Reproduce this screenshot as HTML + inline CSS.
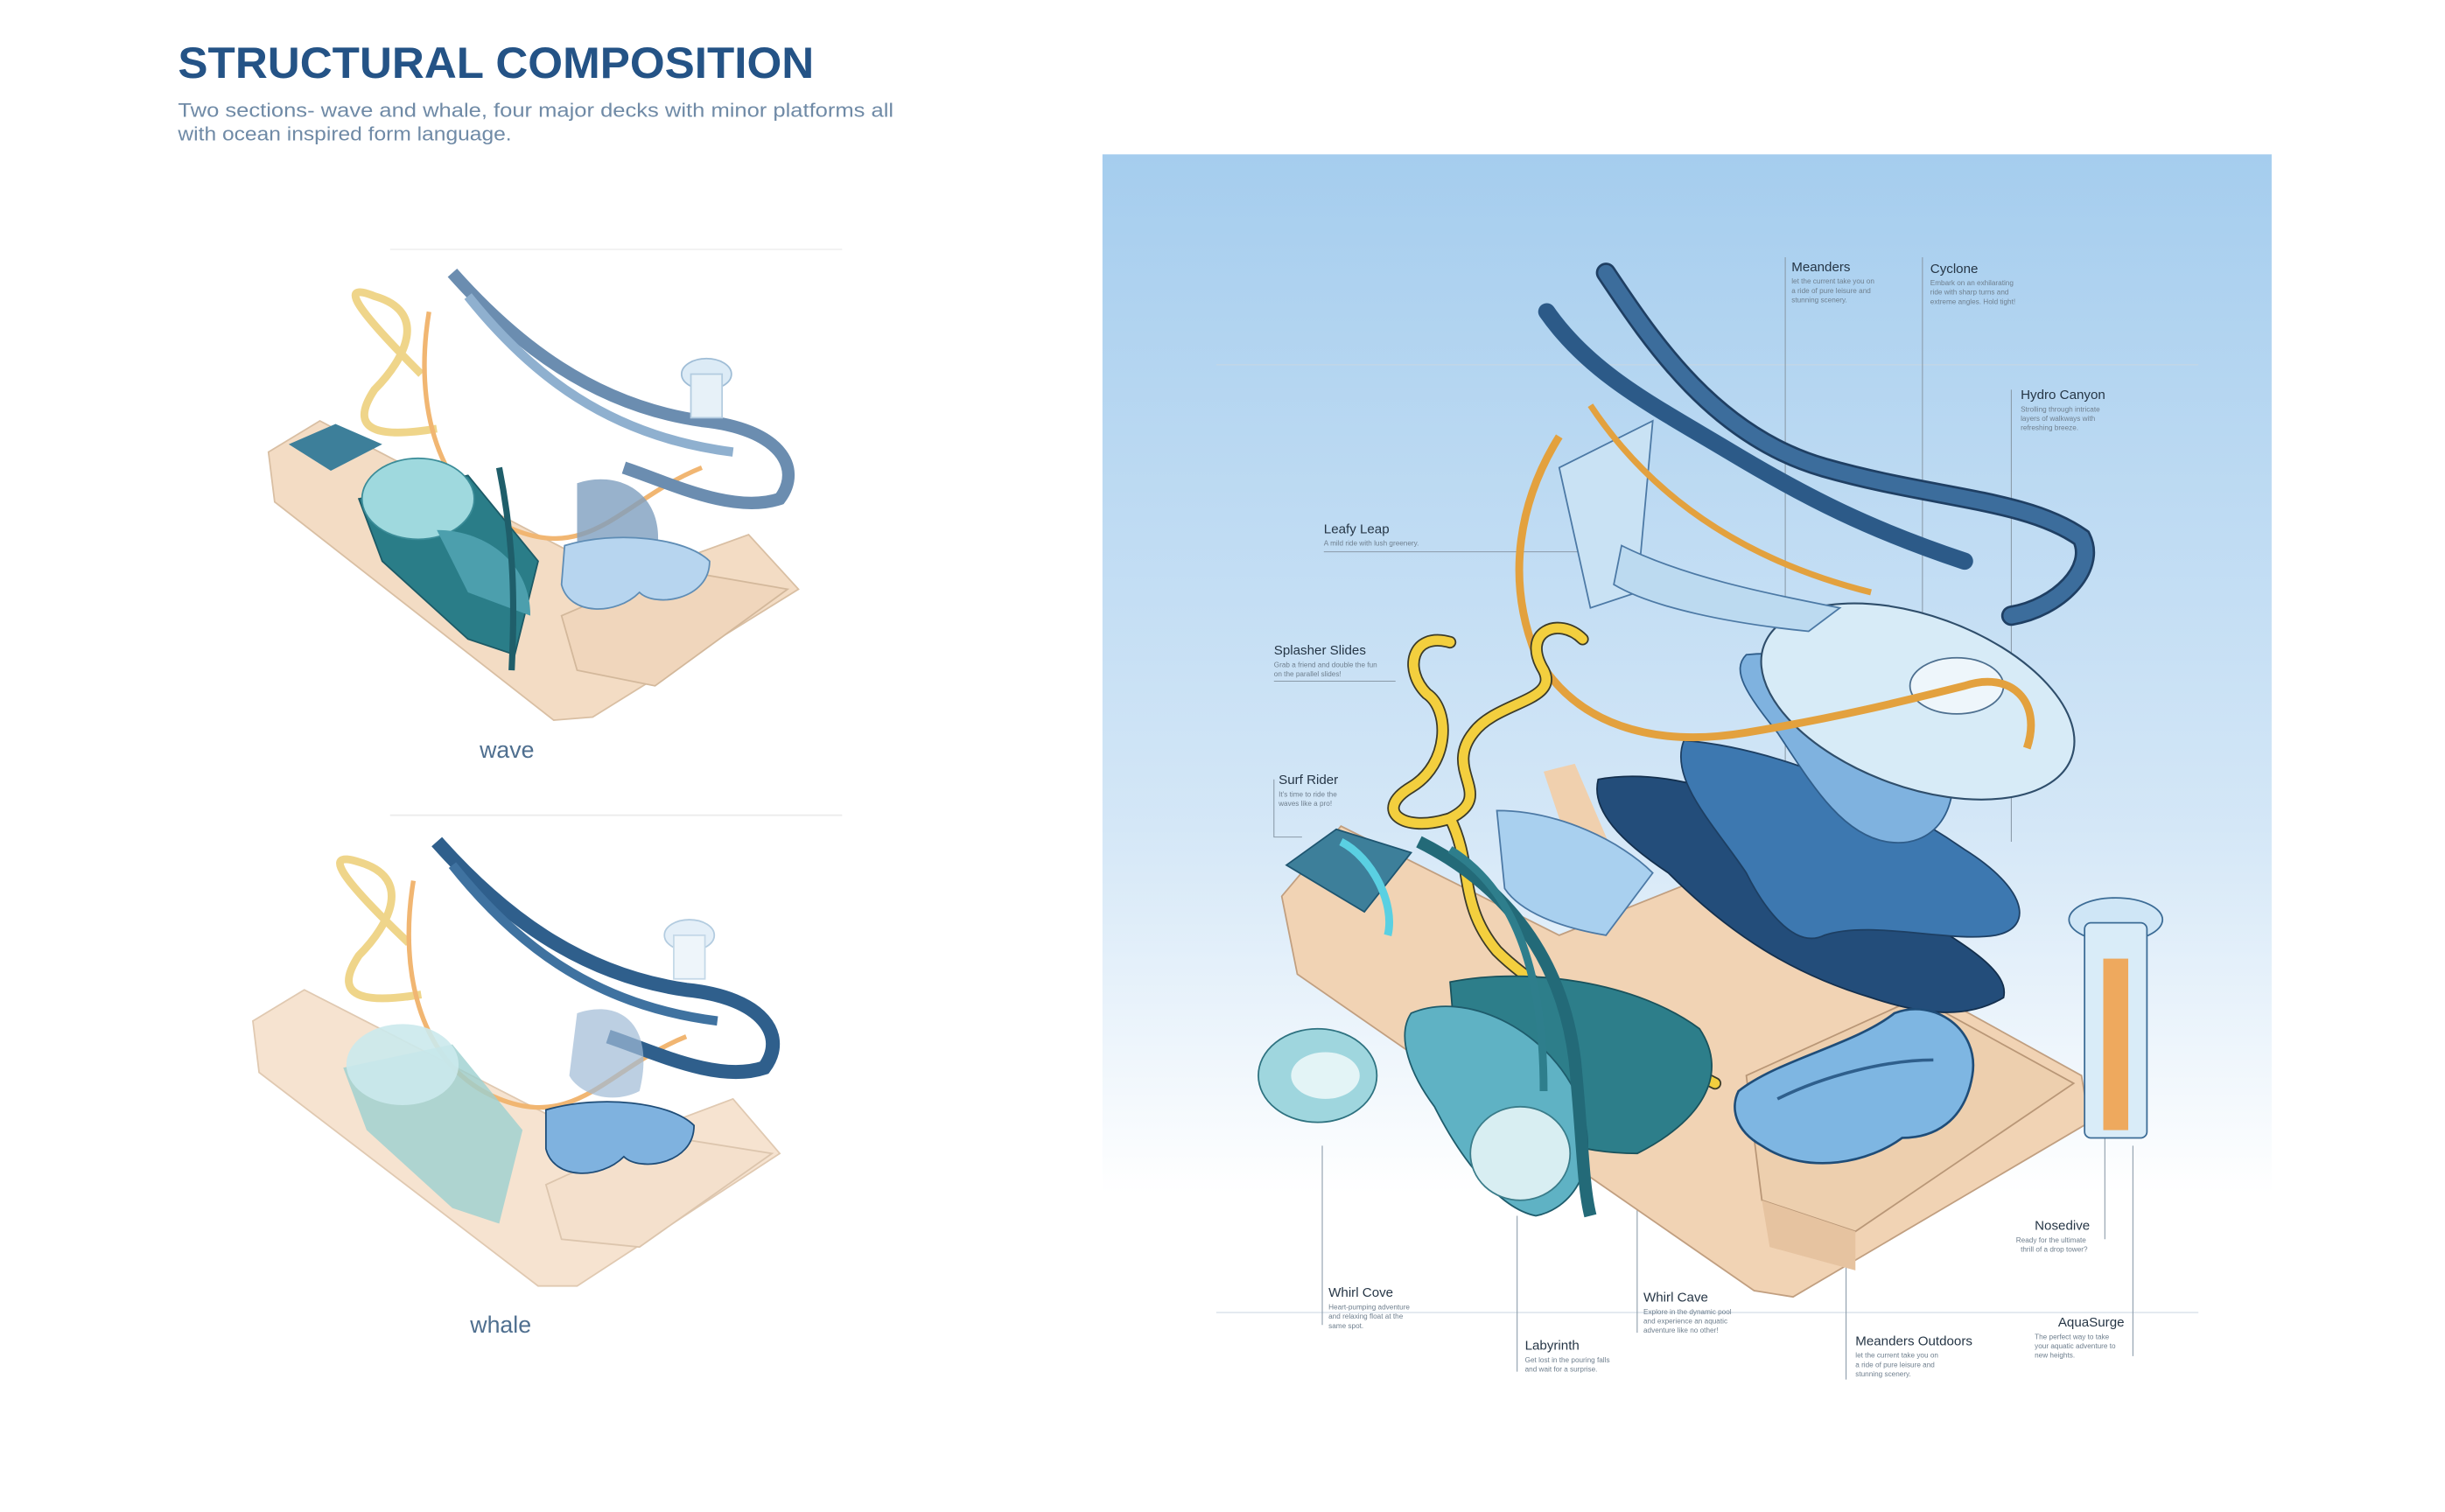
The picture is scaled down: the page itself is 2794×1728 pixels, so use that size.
<!DOCTYPE html>
<html><head><meta charset="utf-8"><style>
html,body{margin:0;padding:0;background:#fff;}
svg{display:block}
</style></head><body>
<svg width="2794" height="1728" viewBox="0 0 1568 970" xmlns="http://www.w3.org/2000/svg" font-family="Liberation Sans, sans-serif">
<defs>
<linearGradient id="sky" x1="0" y1="0" x2="0" y2="1">
<stop offset="0" stop-color="#a5cdee"/><stop offset="0.55" stop-color="#d4e7f7"/><stop offset="0.85" stop-color="#ffffff"/><stop offset="1" stop-color="#ffffff"/>
</linearGradient>
</defs>
<rect width="1568" height="970" fill="#fff"/>
<text x="114" y="50" font-size="28" font-weight="bold" fill="#245386" textLength="408" lengthAdjust="spacingAndGlyphs">STRUCTURAL COMPOSITION</text>
<text x="114" y="75" font-size="12.5" fill="#6f8aa6" textLength="459" lengthAdjust="spacingAndGlyphs">Two sections- wave and whale, four major decks with minor platforms all</text>
<text x="114" y="90" font-size="12.5" fill="#6f8aa6" textLength="214" lengthAdjust="spacingAndGlyphs">with ocean inspired form language.</text>

<!-- left: wave -->
<g>
<line x1="250" y1="160" x2="540" y2="160" stroke="#f1f1f1"/>
<polygon points="172,290 205,270 400,372 480,343 512,378 380,460 355,462 176,322" fill="#f3dcc4" stroke="#d9bfa3" stroke-width="1"/>
<polygon points="360,395 430,365 505,378 420,440 370,430" fill="#f0d6bc" stroke="#d3b89b"/>
<path d="M270,240 C230,200 215,180 240,190 C275,200 260,230 240,250 C220,280 250,280 280,275" stroke="#efd58a" stroke-width="5" fill="none"/>
<path d="M275,200 C265,260 280,320 330,340 C380,360 400,320 450,300" stroke="#f1b672" stroke-width="3" fill="none"/>
<path d="M290,175 C330,220 380,260 450,270 C500,275 515,300 500,320 C470,330 430,310 400,300" stroke="#6b8db0" stroke-width="8" fill="none"/>
<path d="M300,190 C340,240 390,280 470,290" stroke="#8fb0cf" stroke-width="6" fill="none"/>
<ellipse cx="453" cy="240" rx="16" ry="10" fill="#dcebf6" stroke="#9fbdd6"/>
<rect x="443" y="240" width="20" height="28" fill="#e7f1f8" stroke="#b3cce0"/>
<path d="M370,310 C400,300 430,320 420,360 C410,380 380,380 370,360Z" fill="#7e9fbf" opacity="0.8"/>
<path d="M230,320 L300,305 L345,360 L330,420 L300,410 L245,360Z" fill="#2a7d88" stroke="#1c5a66"/>
<ellipse cx="268" cy="320" rx="36" ry="26" fill="#9fd9de" stroke="#3b8c98"/>
<path d="M280,340 C310,340 340,360 340,395 L300,380Z" fill="#4c9fad"/>
<path d="M185,285 L215,272 L245,285 L212,302Z" fill="#3d7f9a"/>
<path d="M362,350 C395,340 440,345 455,360 C455,385 420,390 410,380 C395,395 365,395 360,375Z" fill="#b7d5ef" stroke="#5f8db5"/>
<path d="M320,300 C330,350 330,390 328,430" stroke="#1f5e6a" stroke-width="4" fill="none"/>
<text x="325" y="486" font-size="15" fill="#4f6f8f" text-anchor="middle">wave</text>
</g>

<line x1="250" y1="523" x2="540" y2="523" stroke="#ececec"/>

<!-- left: whale -->
<g>
<polygon points="162,655 195,635 390,735 470,705 500,740 370,825 345,825 166,688" fill="#f6e3d0" stroke="#e0c9b1"/>
<polygon points="350,760 420,728 495,740 410,800 360,795" fill="#f4e0cc" stroke="#dcc5ad"/>
<path d="M262,605 C220,565 205,545 230,553 C265,563 250,593 230,613 C210,643 240,643 270,638" stroke="#efd58a" stroke-width="5" fill="none"/>
<path d="M265,565 C255,625 270,685 320,705 C370,725 390,685 440,665" stroke="#f1b672" stroke-width="3" fill="none"/>
<path d="M280,540 C320,585 370,625 440,635 C490,640 505,665 490,685 C460,695 420,675 390,665" stroke="#2f5f8c" stroke-width="9" fill="none"/>
<path d="M290,555 C330,605 380,645 460,655" stroke="#3f72a0" stroke-width="6" fill="none"/>
<ellipse cx="442" cy="600" rx="16" ry="10" fill="#e4eff8" stroke="#b3cce0"/>
<rect x="432" y="600" width="20" height="28" fill="#eef5fa" stroke="#c4d8e8"/>
<path d="M220,685 L290,670 L335,725 L320,785 L290,775 L235,725Z" fill="#9ccfd0" opacity="0.8"/>
<ellipse cx="258" cy="683" rx="36" ry="26" fill="#cbe9ec" opacity="0.9"/>
<path d="M350,712 C385,702 430,707 445,722 C445,747 410,752 400,742 C385,757 355,757 350,737Z" fill="#7fb2df" stroke="#1f4d78"/>
<path d="M370,650 C400,640 420,660 410,700 C390,710 370,700 365,690Z" fill="#9fbbd6" opacity="0.7"/>
<text x="321" y="855" font-size="15" fill="#4f6f8f" text-anchor="middle">whale</text>
</g>

<!-- right panel -->
<rect x="707" y="99" width="750" height="785" fill="url(#sky)"/>
<g stroke="#c8d6e2" stroke-width="0.6">
<line x1="780" y1="234" x2="1410" y2="234"/>
<line x1="780" y1="842" x2="1410" y2="842"/>
</g>
<g stroke="#8a9aa8" stroke-width="0.6" fill="none">
<line x1="1145" y1="165" x2="1145" y2="700"/>
<line x1="1233" y1="165" x2="1233" y2="600"/>
<line x1="1290" y1="250" x2="1290" y2="540"/>
<line x1="849" y1="354" x2="1030" y2="354"/>
<line x1="817" y1="437" x2="895" y2="437"/>
<polyline points="817,500 817,537 835,537"/>
<line x1="848" y1="735" x2="848" y2="850"/>
<line x1="973" y1="780" x2="973" y2="880"/>
<line x1="1050" y1="760" x2="1050" y2="855"/>
<line x1="1184" y1="770" x2="1184" y2="885"/>
<line x1="1350" y1="700" x2="1350" y2="795"/>
<line x1="1368" y1="735" x2="1368" y2="870"/>
</g>
<polygon points="822,575 860,530 1000,600 1100,560 1335,690 1340,720 1150,832 1125,828 832,625" fill="#f1d3b4" stroke="#c19f80" stroke-width="1"/>
<polygon points="1120,690 1230,640 1330,695 1190,790 1130,770" fill="#edcfae" stroke="#b99777"/>
<polygon points="1130,770 1190,790 1190,815 1135,800" fill="#e6c3a0"/>
<path d="M990,495 L1010,490 L1040,560 L1015,570Z" fill="#f0d0ae"/>
<path d="M1025,500 C1080,490 1150,520 1200,570 C1250,600 1290,620 1285,640 C1260,655 1230,650 1200,640 C1150,625 1110,600 1070,560 C1040,540 1020,520 1025,500Z" fill="#234d7a" stroke="#132f4d"/>
<path d="M1080,475 C1140,480 1210,510 1260,545 C1300,570 1305,595 1280,600 C1250,605 1200,590 1170,600 C1150,610 1130,580 1120,560 C1100,530 1070,500 1080,475Z" fill="#3d78b0" stroke="#1d3f63"/>
<path d="M1120,420 C1170,415 1230,440 1250,480 C1260,520 1240,545 1210,540 C1180,535 1160,500 1140,470 C1120,445 1110,430 1120,420Z" fill="#7fb2df" stroke="#2f5d8a"/>
<ellipse cx="1230" cy="450" rx="105" ry="55" fill="#d7ebf7" stroke="#2f4e6b" stroke-width="1.2" transform="rotate(20 1230 450)"/>
<ellipse cx="1255" cy="440" rx="30" ry="18" fill="#eef6fb" stroke="#4d6f8f"/>
<path d="M960,520 C1000,520 1040,540 1060,560 L1030,600 C1000,595 975,585 965,570Z" fill="#a9d0ef" stroke="#4c79a5"/>
<path d="M1000,300 L1060,270 L1050,380 L1020,390Z" fill="#c9e2f4" stroke="#4c79a5"/>
<path d="M1040,350 C1080,370 1130,380 1180,390 L1160,405 C1110,400 1060,390 1035,375Z" fill="#bcdaf0" stroke="#4c79a5"/>
<path d="M1000,280 C975,320 965,370 985,420 C1010,465 1060,480 1120,470 C1180,460 1220,450 1260,440 C1290,430 1310,450 1300,480" stroke="#e3a13e" stroke-width="5" fill="none"/>
<path d="M1020,260 C1060,320 1120,360 1200,380" stroke="#e3a13e" stroke-width="4" fill="none"/>
<path d="M1015,410 C1000,395 975,405 990,430 C1000,450 960,450 945,470 C925,495 960,510 930,525 C900,535 880,520 905,505 C930,490 930,455 915,445 C900,430 905,405 930,412 M930,525 C945,555 935,580 960,610 C990,640 1050,670 1100,695" stroke="#3b3b2a" stroke-width="8" fill="none" stroke-linecap="round"/>
<path d="M1015,410 C1000,395 975,405 990,430 C1000,450 960,450 945,470 C925,495 960,510 930,525 C900,535 880,520 905,505 C930,490 930,455 915,445 C900,430 905,405 930,412 M930,525 C945,555 935,580 960,610 C990,640 1050,670 1100,695" stroke="#f3cf3e" stroke-width="6" fill="none" stroke-linecap="round"/>
<path d="M1030,175 C1060,220 1100,280 1170,300 C1240,320 1300,320 1335,345 C1345,365 1320,390 1290,395" stroke="#1f3f63" stroke-width="13" fill="none" stroke-linecap="round"/>
<path d="M1030,175 C1060,220 1100,280 1170,300 C1240,320 1300,320 1335,345 C1345,365 1320,390 1290,395" stroke="#3c6d9c" stroke-width="10" fill="none" stroke-linecap="round"/>
<path d="M992,200 C1020,240 1060,260 1110,290 C1160,320 1200,340 1260,360" stroke="#2c5a88" stroke-width="11" fill="none" stroke-linecap="round"/>
<path d="M930,630 C980,620 1050,630 1090,660 C1110,690 1090,720 1050,740 C1000,740 960,720 935,690Z" fill="#2d7e8a" stroke="#1a525c"/>
<path d="M905,650 C940,635 990,660 1010,700 C1030,745 1010,775 985,780 C960,775 935,740 920,710 C905,690 895,665 905,650Z" fill="#5fb2c4" stroke="#1e5c6c"/>
<ellipse cx="975" cy="740" rx="32" ry="30" fill="#d8eef2" stroke="#3a7c8a"/>
<ellipse cx="845" cy="690" rx="38" ry="30" fill="#9fd6de" stroke="#2e7280"/>
<ellipse cx="850" cy="690" rx="22" ry="15" fill="#e3f4f6"/>
<path d="M910,540 C950,560 1000,600 1010,680 C1015,730 1015,760 1020,780" stroke="#236a78" stroke-width="8" fill="none"/>
<path d="M930,545 C970,570 990,620 990,700" stroke="#2e7e8c" stroke-width="5" fill="none"/>
<path d="M825,555 L857,532 L905,547 L875,585Z" fill="#3d7f9a" stroke="#1e5570"/>
<path d="M860,540 C880,550 895,580 890,600" stroke="#5ad0e2" stroke-width="5" fill="none"/>
<path d="M1115,700 C1140,680 1190,670 1215,650 C1240,640 1270,660 1265,690 C1260,720 1240,730 1220,730 C1200,745 1160,755 1130,735 C1112,725 1110,710 1115,700Z" fill="#7eb6e2" stroke="#1f4d78" stroke-width="1.5"/>
<path d="M1140,705 C1170,690 1210,680 1240,680" stroke="#2f5f8c" stroke-width="2" fill="none"/>
<ellipse cx="1357" cy="590" rx="30" ry="14" fill="#cfe6f6" stroke="#3c6c96"/>
<rect x="1337" y="592" width="40" height="138" fill="#d9ecf8" stroke="#3c6c96" rx="4"/>
<rect x="1349" y="615" width="16" height="110" fill="#f0a24d" opacity="0.9"/>

<g fill="#263646">
<text x="1149" y="174" font-size="8.5">Meanders</text>
<text x="1238" y="175" font-size="8.5">Cyclone</text>
<text x="1296" y="256" font-size="8.5">Hydro Canyon</text>
<text x="849" y="342" font-size="8.5">Leafy Leap</text>
<text x="817" y="420" font-size="8.5">Splasher Slides</text>
<text x="820" y="503" font-size="8.5">Surf Rider</text>
<text x="852" y="832" font-size="8.5">Whirl Cove</text>
<text x="978" y="866" font-size="8.5">Labyrinth</text>
<text x="1054" y="835" font-size="8.5">Whirl Cave</text>
<text x="1190" y="863" font-size="8.5">Meanders Outdoors</text>
<text x="1305" y="789" font-size="8.5">Nosedive</text>
<text x="1320" y="851" font-size="8.5">AquaSurge</text>
</g>
<g fill="#6f7f8e" font-size="4.6">
<text x="1149" y="182">let the current take you on</text><text x="1149" y="188">a ride of pure leisure and</text><text x="1149" y="194">stunning scenery.</text>
<text x="1238" y="183">Embark on an exhilarating</text><text x="1238" y="189">ride with sharp turns and</text><text x="1238" y="195">extreme angles. Hold tight!</text>
<text x="1296" y="264">Strolling through intricate</text><text x="1296" y="270">layers of walkways with</text><text x="1296" y="276">refreshing breeze.</text>
<text x="849" y="350">A mild ride with lush greenery.</text>
<text x="817" y="428">Grab a friend and double the fun</text><text x="817" y="434">on the parallel slides!</text>
<text x="820" y="511">It's time to ride the</text><text x="820" y="517">waves like a pro!</text>
<text x="852" y="840">Heart-pumping adventure</text><text x="852" y="846">and relaxing float at the</text><text x="852" y="852">same spot.</text>
<text x="978" y="874">Get lost in the pouring falls</text><text x="978" y="880">and wait for a surprise.</text>
<text x="1054" y="843">Explore in the dynamic pool</text><text x="1054" y="849">and experience an aquatic</text><text x="1054" y="855">adventure like no other!</text>
<text x="1190" y="871">let the current take you on</text><text x="1190" y="877">a ride of pure leisure and</text><text x="1190" y="883">stunning scenery.</text>
<text x="1293" y="797">Ready for the ultimate</text><text x="1296" y="803">thrill of a drop tower?</text>
<text x="1305" y="859">The perfect way to take</text><text x="1305" y="865">your aquatic adventure to</text><text x="1305" y="871">new heights.</text>
</g>
</svg>
</body></html>
